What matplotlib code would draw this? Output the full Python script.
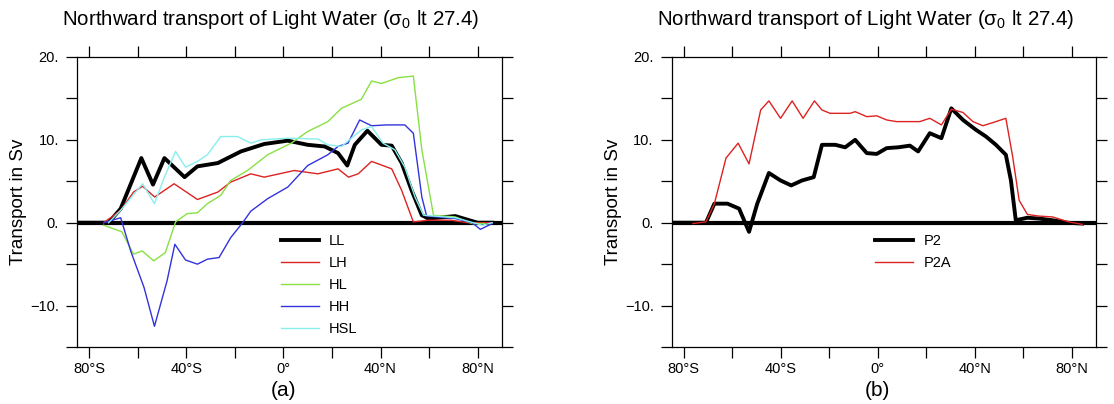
import matplotlib
matplotlib.use('Agg')
import matplotlib.pyplot as plt
from matplotlib.ticker import MultipleLocator, FuncFormatter

plt.rcParams['font.family'] = ['Liberation Sans', 'DejaVu Sans']
plt.rcParams['mathtext.fontset'] = 'custom'
plt.rcParams['mathtext.rm'] = 'Liberation Sans'

# panel (a)
ll_lat = [-85, -72, -67, -58.5, -53.7, -49, -40.7, -35.4, -27, -17.5, -7.9, 1.8, 10, 17, 22.5, 26.3, 29.4, 34.6, 40.4, 44.6, 48.7, 52.8, 57, 59.7, 70.8, 80, 86]
ll_val = [0, 0, 1.7, 7.8, 4.6, 7.8, 5.5, 6.8, 7.2, 8.6, 9.5, 9.9, 9.4, 9.2, 8.4, 6.9, 9.4, 11.1, 9.4, 9.3, 7.2, 3.9, 0.9, 0.5, 0.8, 0, 0]

lh_lat = [-74, -67, -61.7, -58, -53, -45, -35.4, -27, -21.7, -13.4, -7.9, 4.5, 14.2, 22.5, 26.8, 30.8, 36.3, 44.6, 48.7, 53.5, 59.7, 69, 76, 86]
lh_val = [0, 1.5, 3.7, 4.4, 3.1, 4.7, 2.8, 3.7, 4.9, 5.9, 5.5, 6.3, 5.9, 6.5, 5.5, 5.9, 7.4, 6.5, 3.9, 0.1, 0.3, 0.3, 0, 0]

hl_lat = [-74, -66.5, -61.7, -58.2, -53.4, -48.6, -44.4, -39.6, -35.4, -31.3, -25.8, -21.7, -14.8, -6.5, 3.2, 10, 18.3, 23.9, 32.1, 36.3, 40.4, 47.3, 53.5, 57, 61.8, 70.8, 77.7, 83]
hl_val = [-0.3, -1.1, -3.8, -3.4, -4.6, -3.6, 0.1, 1.1, 1.2, 2.3, 3.3, 5.1, 6.3, 8.2, 9.6, 11.0, 12.2, 13.8, 14.9, 17.1, 16.8, 17.5, 17.7, 8.8, 0.9, 0.7, -0.1, -0.1]

hh_lat = [-74, -67, -62.9, -57.4, -53.1, -47.9, -44.7, -40.3, -35.4, -31.3, -26.5, -21.7, -16.8, -13.4, -6.5, 1.8, 10, 18.3, 22.5, 26.6, 31.4, 36.3, 42.5, 50, 53.5, 57, 59, 70.8, 77.7, 81.1, 86]
hh_val = [0, 0.6, -3.4, -7.8, -12.5, -7.0, -2.6, -4.5, -5.0, -4.4, -4.2, -1.8, 0, 1.4, 2.9, 4.3, 6.9, 8.2, 9.2, 9.6, 12.4, 11.7, 11.8, 11.8, 10.8, 3.1, 0.8, 0.5, 0, -0.8, -0.1]

hsl_lat = [-72, -67, -58, -53.1, -49, -44.4, -40.3, -35.4, -31.3, -25.8, -18.9, -13.4, -9.2, 1.8, 14.2, 18.3, 23.9, 28, 32.1, 36.3, 41, 45.9, 50, 54.2, 57.7, 70.8, 81.9, 86]
hsl_val = [0, 1.5, 4.7, 2.3, 5.5, 8.6, 6.7, 7.4, 8.2, 10.4, 10.4, 9.6, 10.0, 10.2, 10.1, 9.4, 9.2, 10.2, 11.2, 11.6, 9.6, 8.8, 6.7, 3.1, 0.9, 0.6, -0.3, 0]

# panel (b)
p2_lat = [-85, -70.9, -67.4, -62, -57.2, -53.1, -49.7, -44.9, -40.1, -35.7, -31.2, -26.4, -23, -17.5, -13.4, -9.3, -4.5, -0.4, 3.7, 8.5, 13.3, 16.7, 21.5, 26.3, 30.4, 35.2, 40.6, 44.7, 48.8, 52.9, 55, 57, 61.8, 66.6, 72.1, 78.2, 84.4]
p2_val = [0, 0, 2.3, 2.3, 1.7, -1.1, 2.3, 6.0, 5.1, 4.5, 5.1, 5.5, 9.4, 9.4, 9.1, 10.0, 8.4, 8.3, 9.0, 9.1, 9.3, 8.6, 10.8, 10.2, 13.8, 12.4, 11.2, 10.4, 9.4, 8.2, 5.1, 0.3, 0.6, 0.5, 0.3, 0, -0.1]

p2a_lat = [-76.3, -70.9, -67.4, -62.6, -57.6, -53.1, -48.3, -44.9, -40.1, -35.3, -30.8, -26.1, -23, -19.6, -11.4, -9.3, -4.5, -0.4, 3.7, 7.8, 17.4, 21.5, 26.3, 30.4, 35.2, 39.3, 43.4, 48.8, 52.9, 55.7, 58.4, 61.8, 66.6, 72.1, 78.9, 84.4]
p2a_val = [-0.1, 0.1, 2.3, 7.8, 9.6, 7.1, 13.6, 14.7, 12.6, 14.7, 12.6, 14.7, 13.6, 13.2, 13.2, 13.4, 12.8, 12.9, 12.4, 12.2, 12.2, 12.6, 11.8, 13.7, 13.3, 12.2, 11.7, 12.2, 12.6, 8.0, 2.7, 1.0, 0.8, 0.7, 0.1, -0.2]

title = 'Northward transport of Light Water (σ$_0$ lt 27.4)'


def lat_label(v, pos):
    v = int(round(v))
    if v % 40 != 0:
        return ''
    if v < 0:
        return '%d°S' % -v
    if v > 0:
        return '%d°N' % v
    return '0°'


def val_label(v, pos):
    v = int(round(v))
    if v % 10 != 0:
        return ''
    return ('%d.' % v).replace('-', '\u2212')


def setup_axes(ax, tag):
    ax.set_xlim(-85, 90)
    ax.set_ylim(-15, 20)
    ax.axhline(0, color='black', lw=3, zorder=1)
    ax.xaxis.set_major_locator(MultipleLocator(20))
    ax.yaxis.set_major_locator(MultipleLocator(5))
    ax.xaxis.set_major_formatter(FuncFormatter(lat_label))
    ax.yaxis.set_major_formatter(FuncFormatter(val_label))
    ax.tick_params(direction='out', length=8, width=0.9, labelsize=10.5, pad=5,
                   top=True, right=True)
    ax.tick_params(axis='x', pad=3)
    for s in ax.spines.values():
        s.set_linewidth(0.9)
    ax.set_ylabel('Transport in Sv', fontsize=13.5, labelpad=2)
    ax.text(0.457, 1.13, title, transform=ax.transAxes, ha='center', va='center', fontsize=14.8)
    ax.text(0.485, -0.15, tag, transform=ax.transAxes, ha='center', va='center', fontsize=15)


fig = plt.figure(figsize=(11.14, 4.04), dpi=100)
ax1 = fig.add_axes([0.0691, 0.141, 0.3815, 0.718])
ax2 = fig.add_axes([0.603, 0.141, 0.3806, 0.718])

setup_axes(ax1, '(a)')
ax1.plot(ll_lat, ll_val, color='black', lw=2.8, label='LL')
ax1.plot(lh_lat, lh_val, color='#dd2222', lw=1.0, label='LH')
ax1.plot(hl_lat, hl_val, color='#88e044', lw=1.0, label='HL')
ax1.plot(hh_lat, hh_val, color='#3333dd', lw=1.0, label='HH')
ax1.plot(hsl_lat, hsl_val, color='#88eeee', lw=1.0, label='HSL')
ax1.legend(loc='upper left', bbox_to_anchor=(0.48, 0.39), frameon=False, fontsize=10.5,
           handlelength=2.6, handletextpad=0.7, labelspacing=0.55, borderpad=0, borderaxespad=0)

setup_axes(ax2, '(b)')
ax2.plot(p2_lat, p2_val, color='black', lw=2.8, label='P2')
ax2.plot(p2a_lat, p2a_val, color='#dd2222', lw=1.0, label='P2A')
ax2.legend(loc='upper left', bbox_to_anchor=(0.48, 0.39), frameon=False, fontsize=10.5,
           handlelength=2.6, handletextpad=0.7, labelspacing=0.55, borderpad=0, borderaxespad=0)

fig.savefig('out.png', dpi=100)
